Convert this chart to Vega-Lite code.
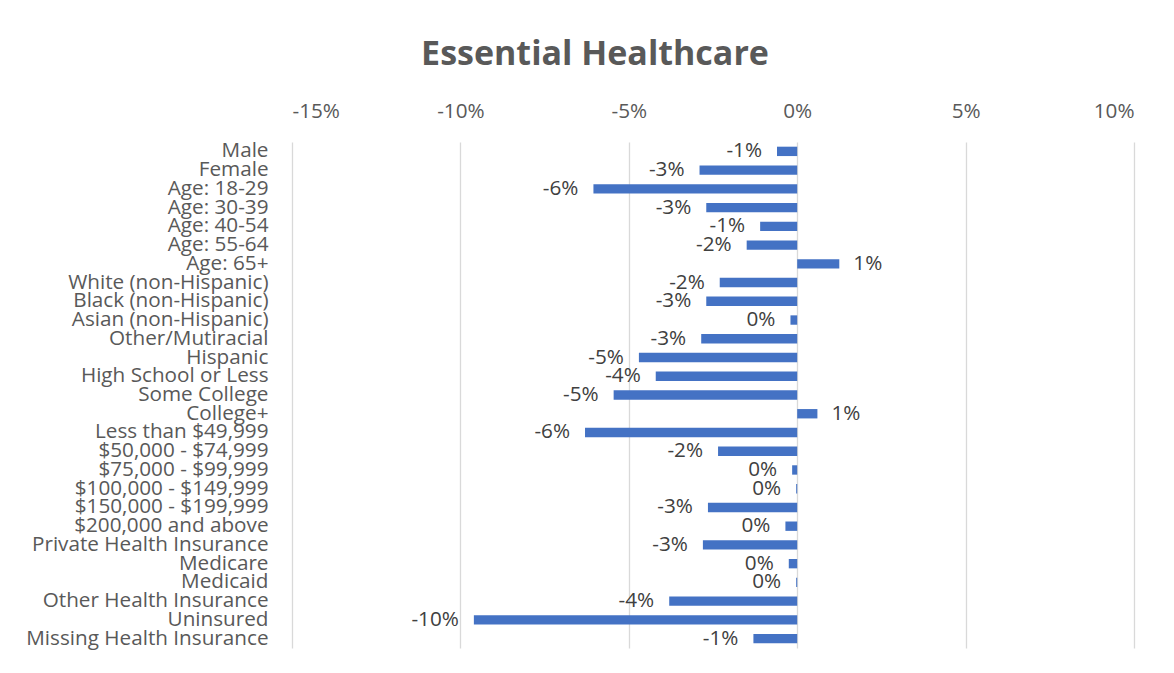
{
  "$schema": "https://vega.github.io/schema/vega-lite/v6.json",
  "autosize": {"type": "none"},
  "width": 842,
  "height": 506,
  "padding": {"left": 292, "top": 142, "right": 40, "bottom": 25},
  "background": "white",
  "config": {
    "font": "Open Sans",
    "view": {"stroke": null}
  },
  "title": {
    "text": "Essential Healthcare",
    "fontSize": 34,
    "fontWeight": "bold",
    "color": "#595959",
    "anchor": "middle",
    "dx": -118,
    "offset": 28
  },
  "data": {
    "values": [
      {"group": "Male", "value": -0.6, "label": "-1%"},
      {"group": "Female", "value": -2.9, "label": "-3%"},
      {"group": "Age: 18-29", "value": -6.05, "label": "-6%"},
      {"group": "Age: 30-39", "value": -2.7, "label": "-3%"},
      {"group": "Age: 40-54", "value": -1.1, "label": "-1%"},
      {"group": "Age: 55-64", "value": -1.5, "label": "-2%"},
      {"group": "Age: 65+", "value": 1.25, "label": "1%"},
      {"group": "White (non-Hispanic)", "value": -2.3, "label": "-2%"},
      {"group": "Black (non-Hispanic)", "value": -2.7, "label": "-3%"},
      {"group": "Asian (non-Hispanic)", "value": -0.2, "label": "0%"},
      {"group": "Other/Mutiracial ", "value": -2.85, "label": "-3%"},
      {"group": "Hispanic", "value": -4.7, "label": "-5%"},
      {"group": "High School or Less", "value": -4.2, "label": "-4%"},
      {"group": "Some College", "value": -5.45, "label": "-5%"},
      {"group": "College+", "value": 0.6, "label": "1%"},
      {"group": "Less than $49,999", "value": -6.3, "label": "-6%"},
      {"group": "$50,000 - $74,999", "value": -2.35, "label": "-2%"},
      {"group": "$75,000 - $99,999", "value": -0.15, "label": "0%"},
      {"group": "$100,000 - $149,999", "value": -0.03, "label": "0%"},
      {"group": "$150,000 - $199,999", "value": -2.65, "label": "-3%"},
      {"group": "$200,000 and above", "value": -0.35, "label": "0%"},
      {"group": "Private Health Insurance", "value": -2.8, "label": "-3%"},
      {"group": "Medicare", "value": -0.25, "label": "0%"},
      {"group": "Medicaid", "value": -0.03, "label": "0%"},
      {"group": "Other Health Insurance", "value": -3.8, "label": "-4%"},
      {"group": "Uninsured", "value": -9.6, "label": "-10%"},
      {"group": "Missing Health Insurance", "value": -1.3, "label": "-1%"}
    ]
  },
  "encoding": {
    "y": {
      "field": "group",
      "type": "nominal",
      "sort": null,
      "scale": {"paddingInner": 0.5, "paddingOuter": 0.25},
      "axis": {
        "title": null,
        "domain": false,
        "ticks": false,
        "labelFontSize": 20.7,
        "labelColor": "#595959",
        "labelPadding": 24,
        "labelLimit": 400
      }
    },
    "x": {
      "field": "value",
      "type": "quantitative",
      "scale": {"domain": [-15, 10], "nice": false, "zero": false},
      "axis": {
        "orient": "top",
        "title": null,
        "values": [-15, -10, -5, 0, 5, 10],
        "labelExpr": "datum.value + '%'",
        "domain": false,
        "ticks": false,
        "grid": true,
        "gridColor": "#d9d9d9",
        "gridWidth": 1.3,
        "labelFontSize": 20.7,
        "labelColor": "#595959",
        "labelPadding": 21
      }
    }
  },
  "layer": [
    {
      "mark": {"type": "bar", "color": "#4472C4"}
    },
    {
      "transform": [{"filter": "datum.value < 0"}],
      "mark": {"type": "text", "align": "right", "baseline": "middle", "dx": -15, "fontSize": 20.7, "color": "#404040"},
      "encoding": {"text": {"field": "label"}}
    },
    {
      "transform": [{"filter": "datum.value >= 0"}],
      "mark": {"type": "text", "align": "left", "baseline": "middle", "dx": 14, "fontSize": 20.7, "color": "#404040"},
      "encoding": {"text": {"field": "label"}}
    }
  ]
}
